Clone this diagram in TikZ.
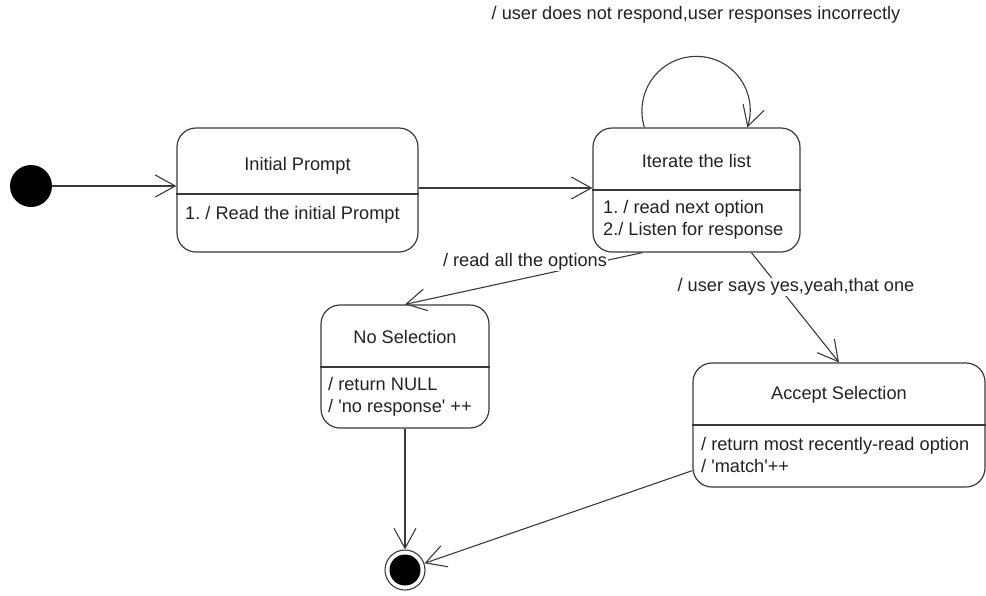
\documentclass[tikz,border=0pt]{standalone}
\usepackage{fontspec}
\setmainfont{Liberation Sans}
\usetikzlibrary{arrows.meta,calc}
\definecolor{ln}{HTML}{3A3A3A}
\definecolor{tx}{HTML}{222222}
\frenchspacing
\begin{document}
\begin{tikzpicture}[x=1pt,y=-1pt,
  every node/.style={font=\fontsize{18.2}{22}\selectfont, text=tx},
  statebox/.style={draw=ln, line width=1.2pt, rounded corners=19pt, inner sep=0pt},
  tr/.style={draw=ln, line width=1.1pt, -{Straight Barb[length=20pt,width=22pt,line width=1.1pt]}},
  lbl/.style={inner sep=1pt}]
\useasboundingbox (0,0) rectangle (986,595);

% initial / final
\node[circle, fill=black, minimum size=42, inner sep=0pt] (init) at (31,186) {};
\node[circle, draw=ln, line width=1.1pt, minimum size=40, inner sep=0pt] (fin) at (405,570) {};
\fill[black] (fin.center) circle (15.5);

% states
\node[statebox, minimum width=241, minimum height=124] (ip) at (297.5,190) {};
\draw[ln, line width=1.2pt] (ip.west |- 0,194) -- (ip.east |- 0,194);
\node (ipt) at (297.5,166) {Initial Prompt};
\node[anchor=west, inner sep=0pt] (ipb) at (185,215) {1. / Read the initial Prompt};

\node[statebox, minimum width=207, minimum height=124] (it) at (696.5,190) {};
\draw[ln, line width=1.2pt] (it.west |- 0,190) -- (it.east |- 0,190);
\node (itt) at (696.5,161) {Iterate the list};
\node[anchor=west, inner sep=0pt, align=left] (itb) at (603,220) {1. / read next option\\2./ Listen for response};

\node[statebox, minimum width=168, minimum height=123] (nosel) at (405,366.5) {};
\draw[ln, line width=1.2pt] (nosel.west |- 0,367) -- (nosel.east |- 0,367);
\node (nst) at (405,337) {No Selection};
\node[anchor=west, inner sep=0pt, align=left] (nsb) at (328,397) {/ return NULL\\/ \textquotesingle no response\textquotesingle\ ++};

\node[statebox, minimum width=292, minimum height=124] (acc) at (839,425) {};
\draw[ln, line width=1.2pt] (acc.west |- 0,425) -- (acc.east |- 0,425);
\node (act) at (839,395) {Accept Selection};
\node[anchor=west, inner sep=0pt, align=left] (acb) at (701,454.5) {/ return most recently-read option\\/ \textquotesingle match\textquotesingle ++};

% transitions
\draw[tr] (init) -- (init -| ip.west);
\draw[tr] (ip.east |- 0,188) -- (it.west |- 0,188);
\begin{scope}[shift={(it.north west)}]
\draw[tr] (52,0) .. controls (41.2,-35.4) and (67,-71) .. (104,-71)
              .. controls (141,-71) and (165.8,-35.4) .. (155,0);
\end{scope}
\node[lbl] (loopl) at (696,15) {/ user does not respond,user responses incorrectly};
\draw[tr] ($(it.south west)+(50,0)$) -- (nosel.north);
\node[lbl, fill=white] (l1) at (525,262) {/ read all the options};
\draw[tr] ($(it.south west)+(159,0)$) -- (acc.north);
\node[lbl, fill=white] (l2) at (796,287) {/ user says yes,yeah,that one};
\draw[tr] (nosel.south) -- (fin.north);
\draw[tr] ($(acc.south west)+(0,-17)$) -- (fin);
\end{tikzpicture}
\end{document}
